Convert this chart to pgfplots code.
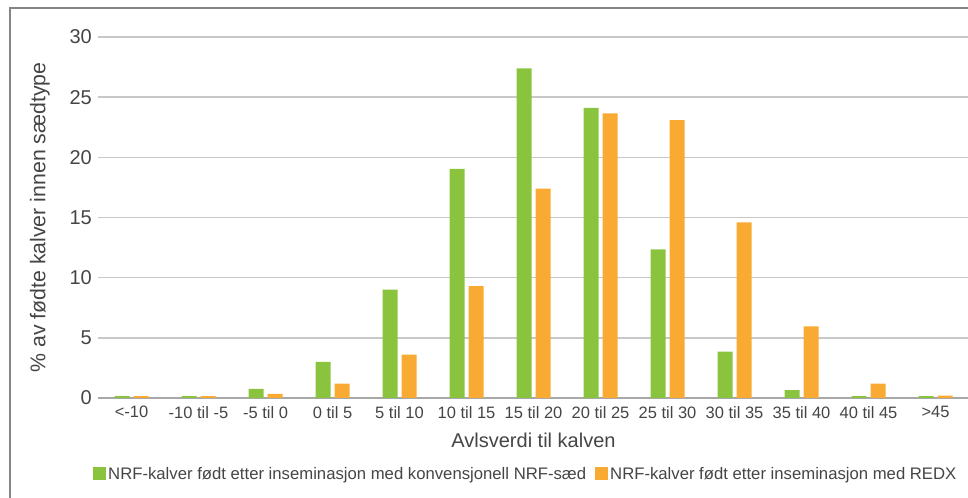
\documentclass[border=0pt]{standalone}
\usepackage{fontspec}
\setmainfont{Liberation Sans}
\usepackage{pgfplots}
\pgfplotsset{compat=1.18}
\definecolor{nrfgreen}{HTML}{8AC43F}
\definecolor{redxorange}{HTML}{F9AA33}
\definecolor{txt}{HTML}{454545}
\definecolor{gridc}{HTML}{C8C8C8}
\definecolor{axisc}{HTML}{A8A8A8}
\definecolor{framec}{HTML}{858585}

\begin{document}
\begin{tikzpicture}
\useasboundingbox (0,0) rectangle (968bp,498bp);
\draw[framec, line width=1.5bp] (10bp,-5bp) -- (10bp,490bp) -- (975bp,490bp);
\begin{axis}[
    at={(98bp,100bp)}, anchor=south west,
    scale only axis, width=871bp, height=361bp,
    xmin=-0.5, xmax=12.5, ymin=0, ymax=30,
    axis line style={draw=none},
    major tick length=0pt,
    ytick={5,10,...,30},
    extra y ticks={0},
    extra y tick style={grid style={axisc, line width=1.6bp}},
    ymajorgrids=true,
    grid style={gridc, line width=1.4bp},
    xtick={0,...,12},
    xticklabels={<-10, -10 til -5, -5 til 0, 0 til 5, 5 til 10, 10 til 15, 15 til 20,
                 20 til 25, 25 til 30, 30 til 35, 35 til 40, 40 til 45, >45},
    /pgf/number format/assume math mode=true,
    xticklabel style={font=\fontsize{16.5bp}{18bp}\selectfont, text=txt, anchor=north, inner sep=0pt, yshift=-8bp},
    yticklabel style={font=\fontsize{20bp}{22bp}\selectfont, text=txt, anchor=east, inner sep=0pt, xshift=-6bp},
    xlabel={Avlsverdi til kalven},
    xlabel style={font=\fontsize{20bp}{22bp}\selectfont, text=txt, at={(axis description cs:0.5,0)}, anchor=north, inner sep=0pt, yshift=-35bp},
    ylabel={\% av fødte kalver innen sædtype},
    ylabel style={font=\fontsize{21.3bp}{23bp}\selectfont, text=txt, at={(axis description cs:-0.0551,0.5)}, anchor=south, inner sep=0pt},
    legend columns=2,
    legend style={at={(axis description cs:-0.0057,-0.2105)}, anchor=west, draw=none, fill=none,
        inner sep=0pt, font=\fontsize{16.7bp}{18bp}\selectfont, text=txt,
        nodes={inner xsep=2bp, inner ysep=0pt},
        /tikz/every even column/.append style={column sep=7bp}},
    legend image code/.code={\fill[#1] (0bp,-6.5bp) rectangle (13bp,6.5bp);},
]
\addplot[ybar, bar width=15bp, bar shift=-9.5bp, fill=nrfgreen, draw=none]
    coordinates {(0,0.15)(1,0.15)(2,0.75)(3,3.0)(4,9.0)(5,19.05)(6,27.4)(7,24.1)(8,12.35)(9,3.85)(10,0.65)(11,0.15)(12,0.15)};
\addlegendentry{NRF-kalver født etter inseminasjon med konvensjonell NRF-sæd}
\addplot[ybar, bar width=15bp, bar shift=9.5bp, fill=redxorange, draw=none]
    coordinates {(0,0.15)(1,0.15)(2,0.35)(3,1.2)(4,3.6)(5,9.3)(6,17.4)(7,23.65)(8,23.1)(9,14.6)(10,5.95)(11,1.2)(12,0.2)};
\addlegendentry{NRF-kalver født etter inseminasjon med REDX}
\end{axis}
\end{tikzpicture}
\end{document}
